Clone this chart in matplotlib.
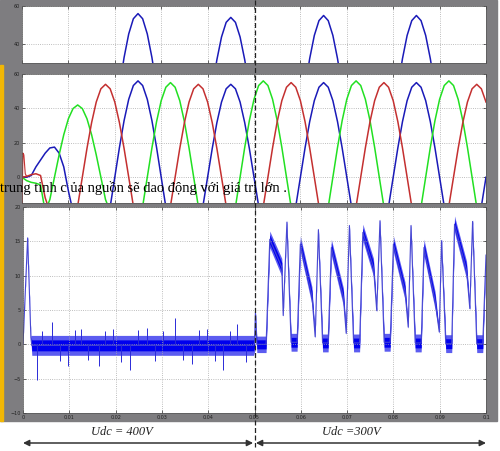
import numpy as np
import matplotlib
matplotlib.use("Agg")
import matplotlib.pyplot as plt
from matplotlib.patches import Rectangle
from matplotlib.lines import Line2D
from matplotlib import transforms

# time axis shared by the three phase voltages (1 ms steps)
t_phase = np.linspace(0, 0.1, 101)

# values, clipped at -20 where they leave the axes
blue_v = [0, 0, 1, 6, 10, 14, 17, 17.5, 14, 6, -8,
          -20, -20, -20, -20, -20, -20, -20, -20,
          -17.3, 0, 17.3, 32.9, 45.3, 53.3, 56, 53.3, 45.3, 32.9, 17.3, 0, -17.3,
          -20, -20, -20, -20, -20, -20, -20,
          -16.7, 0, 16.7, 31.7, 43.7, 51.4, 54, 51.4, 43.7, 31.7, 16.7, 0, -16.7,
          -20, -20, -20, -20, -20, -20, -20,
          -17, 0, 17, 32.3, 44.5, 52.3, 55, 52.3, 44.5, 32.3, 17, 0, -17,
          -20, -20, -20, -20, -20, -20, -20,
          -17, 0, 17, 32.3, 44.5, 52.3, 55, 52.3, 44.5, 32.3, 17, 0, -17,
          -20, -20, -20, -20, -20, -20, -20,
          -17, 0]

green_v = [0, -2, -3, -3.5, -4.5,
           -20,
           -13, 0, 13, 24.7, 34, 39.9, 42, 39.9, 34, 24.7, 13, 0, -13,
           -20, -20, -20, -20, -20, -20, -20,
           -17, 0, 17, 32.3, 44.5, 52.3, 55, 52.3, 44.5, 32.3, 17, 0, -17,
           -20, -20, -20, -20, -20, -20, -20,
           -17.3, 0, 17.3, 32.9, 45.3, 53.3, 56, 53.3, 45.3, 32.9, 17.3, 0, -17.3,
           -20, -20, -20, -20, -20, -20, -20,
           -17.3, 0, 17.3, 32.9, 45.3, 53.3, 56, 53.3, 45.3, 32.9, 17.3, 0, -17.3,
           -20, -20, -20, -20, -20, -20, -20,
           -17.3, 0, 17.3, 32.9, 45.3, 53.3, 56, 53.3, 45.3, 32.9, 17.3, 0, -17.3,
           -20, -20]

red_v = [0, 0.5, 1.5, 2, 1, -12,
         -20, -20, -20, -20, -20, -20,
         -16.7, 0, 16.7, 31.7, 43.7, 51.4, 54, 51.4, 43.7, 31.7, 16.7, 0, -16.7,
         -20, -20, -20, -20, -20, -20, -20,
         -16.7, 0, 16.7, 31.7, 43.7, 51.4, 54, 51.4, 43.7, 31.7, 16.7, 0, -16.7,
         -20, -20, -20, -20, -20, -20, -20,
         -17, 0, 17, 32.3, 44.5, 52.3, 55, 52.3, 44.5, 32.3, 17, 0, -17,
         -20, -20, -20, -20, -20, -20, -20,
         -17, 0, 17, 32.3, 44.5, 52.3, 55, 52.3, 44.5, 32.3, 17, 0, -17,
         -20, -20, -20, -20, -20, -20, -20,
         -16.7, 0, 16.7, 31.7, 43.7, 51.4, 54, 51.4, 43.7]

# short start-up spike on the red phase
red_spike_t = [0.0, 0.0002, 0.0004, 0.0007, 0.001]
red_spike_v = [-20, 14, 13, 2, 0.5]

# neutral point voltage: centre line and half-width of the noise band
sig_t = [0.0, 0.001, 0.0017, 0.0019, 0.0498,
         0.0500, 0.0502, 0.0505, 0.0525,
         0.0533, 0.0559, 0.0562, 0.0570, 0.0579, 0.0592,
         0.0599, 0.0624, 0.0631, 0.0638, 0.0647, 0.0659,
         0.0666, 0.0692, 0.0698, 0.0705, 0.0714, 0.0727,
         0.0734, 0.0757, 0.0764, 0.0771, 0.0780, 0.0793,
         0.0800, 0.0825, 0.0832, 0.0838, 0.0847, 0.0860,
         0.0866, 0.0890, 0.0899, 0.0904, 0.0913, 0.0926,
         0.0932, 0.0958, 0.0965, 0.0971, 0.0980, 0.0993,
         0.1000]
sig_v = [0, 15.5, 1.0, -0.15, -0.15,
         0.2, 4.6, 0.0, 0.0,
         15.3, 11.2, 4.2, 17.8, 0.3, 0.3,
         14.6, 7.1, 1.1, 16.7, 0.2, 0.2,
         14.1, 6.9, 1.6, 17.3, 0.2, 0.2,
         16.3, 11.2, 4.9, 18.0, 0.3, 0.3,
         14.6, 7.8, 2.5, 17.3, 0.2, 0.2,
         14.1, 6.4, 1.8, 15.1, 0.1, 0.1,
         17.5, 10.8, 5.2, 17.9, 0.1, 0.1,
         13.0]
sig_w = [0.1, 0.2, 0.3, 1.45, 1.45,
         1.3, 0.3, 1.2, 1.2,
         1.2, 1.3, 0.2, 0.3, 1.3, 1.3,
         1.2, 1.3, 0.2, 0.3, 1.3, 1.3,
         1.2, 1.3, 0.2, 0.3, 1.3, 1.3,
         1.2, 1.3, 0.2, 0.3, 1.3, 1.3,
         1.2, 1.3, 0.2, 0.3, 1.3, 1.3,
         1.2, 1.3, 0.2, 0.3, 1.3, 1.3,
         1.2, 1.3, 0.2, 0.3, 1.3, 1.3,
         0.6]

# isolated noise spikes while Udc = 400V
spike_t = [0.003, 0.0041, 0.0063, 0.0079, 0.0098, 0.0112, 0.0125, 0.0141,
           0.0164, 0.0178, 0.0195, 0.0212, 0.0231, 0.0249, 0.0268, 0.0285,
           0.0302, 0.0328, 0.0346, 0.0364, 0.0381, 0.0397, 0.0415, 0.0431,
           0.0447, 0.0463, 0.0482]
spike_v = [-5.2, 2.0, 3.2, -2.4, -3.2, 2.1, 2.3, -2.3,
           -3.2, 2.0, 2.2, -2.5, -3.8, 2.1, 2.4, -2.4,
           2.0, 3.8, -2.3, -2.8, 2.1, 2.2, -2.4, -3.8,
           2.0, 2.9, -2.5]

split_t = 0.05
x_ticks = [0, 0.01, 0.02, 0.03, 0.04, 0.05, 0.06, 0.07, 0.08, 0.09, 0.1]
x_tick_labels = ['0', '0.01', '0.02', '0.03', '0.04', '0.05',
                 '0.06', '0.07', '0.08', '0.09', '0.1']
caption = "trung tinh c ủa nguồn sẽ dao động với giá trị lớn ."
label_left = "Udc = 400V"
label_right = "Udc =300V"

BLUE = '#1a1ab8'
RED = '#c43030'
GREEN = '#22e022'
GRAY = '#7e7d80'
W, H = 500.0, 451.0


def style_axes(ax, yticks, ylim):
    ax.set_xlim(0, 0.1)
    ax.set_ylim(*ylim)
    ax.set_xticks(x_ticks)
    ax.set_yticks(yticks)
    ax.grid(True, linestyle=':', color='#a8a8a8', linewidth=0.6)
    ax.tick_params(direction='in', length=2, width=0.4, top=True, right=True,
                   labelsize=3.5, pad=1.5, labelcolor='#222222')
    for s in ax.spines.values():
        s.set_linewidth(0.5)
        s.set_color('#555555')
    ax.set_facecolor('white')


fig = plt.figure(figsize=(5, 4.51), dpi=100)

# gray frame and yellow stripe behind the three scopes
fig.patches.append(Rectangle((0, 1 - 421 / H), 497 / W, 421 / H,
                             transform=fig.transFigure, color=GRAY, zorder=-10))
fig.patches.append(Rectangle((0, 1 - 421 / H), 3 / W, (421 - 65) / H,
                             transform=fig.transFigure, color='#f2b705', zorder=-9))

ax_top = fig.add_axes([22 / W, 1 - 63 / H, 464 / W, 57 / H])
ax_mid = fig.add_axes([22 / W, 1 - 203 / H, 464 / W, 129 / H])
ax_bot = fig.add_axes([23 / W, 1 - 413 / H, 463 / W, 206 / H])

ax_top.plot(t_phase, blue_v, color=BLUE, lw=1.1)
style_axes(ax_top, [40, 60], (30, 60))
ax_top.set_xticklabels([])

ax_mid.plot(t_phase, blue_v, color=BLUE, lw=1.1)
ax_mid.plot(t_phase, green_v, color=GREEN, lw=1.1)
ax_mid.plot(t_phase, red_v, color=RED, lw=1.1)
ax_mid.plot(red_spike_t, red_spike_v, color=RED, lw=0.8)
style_axes(ax_mid, [0, 20, 40, 60], (-15, 60))
ax_mid.set_xticklabels([])

sv = np.array(sig_v)
sw = np.array(sig_w)
# light outer band, dense core, thin centre line for the fast edges
ax_bot.fill_between(sig_t, sv - sw, sv + sw, color='#5c5cf0', lw=0)
ax_bot.fill_between(sig_t, sv - 0.55 * sw, sv + 0.55 * sw, color='#0000ee', lw=0)
ax_bot.plot(sig_t, sig_v, color='#4646d2', lw=0.8)
ax_bot.vlines(spike_t, 0, spike_v, color='#2a2ad8', lw=0.7)
style_axes(ax_bot, [-10, -5, 0, 5, 10, 15, 20], (-10, 20))
ax_bot.set_xticklabels(x_tick_labels)

# dashed marker at the Udc step, across all panels
x_split = fig.transFigure.inverted().transform(
    ax_bot.transData.transform((split_t, 0)))[0]
fig.lines.append(Line2D([x_split, x_split], [1.0, 1 - 447 / H],
                        transform=fig.transFigure, color='#222222',
                        lw=0.9, dashes=(4, 2), zorder=10))

# arrows and labels under the scopes
blend = transforms.blended_transform_factory(ax_bot.transData, fig.transFigure)
y_arrow = 1 - 443 / H
y_label = 1 - 432 / H
arrow_kw = dict(arrowstyle='<|-|>', color='#333333', lw=1.1,
                mutation_scale=9, shrinkA=0, shrinkB=0)
ax_bot.annotate('', xy=(split_t - 0.0003, y_arrow), xytext=(0.0, y_arrow),
                xycoords=blend, textcoords=blend, arrowprops=arrow_kw,
                annotation_clip=False)
ax_bot.annotate('', xy=(0.1, y_arrow), xytext=(split_t + 0.0003, y_arrow),
                xycoords=blend, textcoords=blend, arrowprops=arrow_kw,
                annotation_clip=False)
ax_bot.text(0.0213, y_label, label_left, transform=blend, ha='center',
            va='center', fontsize=9, style='italic', family='Liberation Serif',
            color='#222222')
ax_bot.text(0.0710, y_label, label_right, transform=blend, ha='center',
            va='center', fontsize=9, style='italic', family='Liberation Serif',
            color='#222222')

fig.text(0.0, 1 - 188 / H, caption, fontsize=10.5, family='Liberation Serif',
         va='center', ha='left', color='black', zorder=20)

fig.savefig('out.png', dpi=100)
